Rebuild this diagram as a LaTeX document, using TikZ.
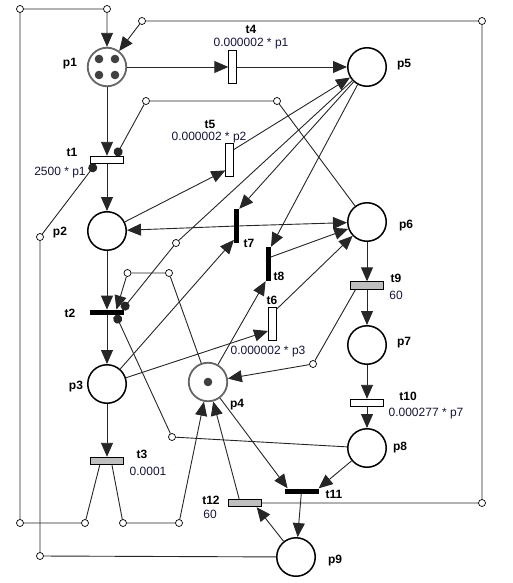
\documentclass[tikz,border=0pt]{standalone}
\usepackage{fontspec}
\setmainfont{Liberation Sans}
\usepackage{tikz}
\usetikzlibrary{shapes,arrows.meta}
\definecolor{ratecol}{RGB}{20,20,60}
\tikzstyle{place} = [circle, draw=black, line width=1.5pt, fill=white,
    minimum size=38.5pt, inner sep=0pt]
\tikzstyle{gplace} = [place, draw=black!60, line width=1.8pt]
\tikzstyle{tvert} = [rectangle, draw, line width=0.9pt, fill=white,
    minimum width=7.5pt, minimum height=33pt, inner sep=0pt]
\tikzstyle{thor} = [rectangle, draw, line width=0.9pt, fill=white,
    minimum width=33pt, minimum height=7.5pt, inner sep=0pt]
\tikzstyle{tgrey} = [thor, fill=black!25]
\tikzstyle{bvert} = [rectangle, fill=black, minimum width=5pt,
    minimum height=34pt, inner sep=0pt]
\tikzstyle{bhor} = [rectangle, fill=black, minimum width=34pt,
    minimum height=5pt, inner sep=0pt]
\tikzstyle{waypt} = [circle, draw, line width=0.7pt, fill=white,
    minimum size=7pt, inner sep=0pt]
\tikzstyle{lbl} = [font=\bfseries\fontsize{12}{14}\selectfont, anchor=base, inner sep=0pt]
\tikzstyle{rate} = [font=\fontsize{12}{14}\selectfont, text=ratecol, anchor=base, inner sep=0pt]
\tikzstyle{arcto} = [draw=black!85, line width=0.9pt, -{Triangle[length=14pt,width=12pt]}]
\tikzstyle{arcdot} = [draw=black!85, line width=0.9pt, -{Circle[length=9pt]}]

\begin{document}
\begin{tikzpicture}[x=1pt, y=-1pt]
  \useasboundingbox (0,0) rectangle (512,583);
  % places
  \node [gplace] (p1) at (107,67) {};
  \node [place] (p5) at (367,67) {};
  \node [place] (p2) at (107,231) {};
  \node [place] (p6) at (367,222) {};
  \node [place] (p3) at (107,384) {};
  \node [gplace] (p4) at (208,382) {};
  \node [place] (p7) at (367,345) {};
  \node [place] (p8) at (367,448) {};
  \node [place] (p9) at (296,557) {};
  \fill [black!75] ([shift={(-8,-8)}]p1.center) circle (4.3pt);
  \fill [black!75] ([shift={(8,-8)}]p1.center) circle (4.3pt);
  \fill [black!75] ([shift={(-8,8)}]p1.center) circle (4.3pt);
  \fill [black!75] ([shift={(8,8)}]p1.center) circle (4.3pt);
  \fill [black!75] (p4.center) circle (4.3pt);
  % transitions
  \node [tvert] (t4) at (232.5,67) {};
  \node [tvert] (t5) at (229.5,160) {};
  \node [thor] (t1) at (107,160) {};
  \node [bvert] (t7) at (236.6,226) {};
  \node [bvert] (t8) at (268.3,264) {};
  \node [tvert] (t6) at (272.2,324) {};
  \node [bhor] (t2) at (107,312.3) {};
  \node [tgrey] (t9) at (367,285.5) {};
  \node [thor] (t10) at (367,403) {};
  \node [tgrey] (t3) at (107,461) {};
  \node [bhor] (t11) at (301.5,491) {};
  \node [tgrey] (t12) at (244.5,503) {};
  % bend points
  \node [waypt] (wa) at (20,9) {};
  \node [waypt] (wb) at (107,9) {};
  \node [waypt] (wc) at (142,21) {};
  \node [waypt] (wd) at (482,21) {};
  \node [waypt] (we) at (482,503) {};
  \node [waypt] (wf) at (146,101) {};
  \node [waypt] (wg) at (277,101) {};
  \node [waypt] (wh) at (40,237) {};
  \node [waypt] (wi) at (40,556) {};
  \node [waypt] (wj) at (176,243) {};
  \node [waypt] (wk) at (127.5,273) {};
  \node [waypt] (wl) at (169,273) {};
  \node [waypt] (wm) at (313,364) {};
  \node [waypt] (wn) at (172,437) {};
  \node [waypt] (wo) at (20,523) {};
  \node [waypt] (wq) at (85,523) {};
  \node [waypt] (wr) at (123,523) {};
  \node [waypt] (ws) at (179,523) {};
  % labels
  \node [lbl] (p1l) at (70,67) {p1};
  \node [lbl] (p5l) at (404,68) {p5};
  \node [lbl] (p2l) at (60,235) {p2};
  \node [lbl] (p6l) at (406,228) {p6};
  \node [lbl] (p3l) at (76,389) {p3};
  \node [lbl] (p4l) at (237,407) {p4};
  \node [lbl] (p7l) at (404,345) {p7};
  \node [lbl] (p8l) at (400,450) {p8};
  \node [lbl] (p9l) at (335,563) {p9};
  \node [lbl] (t4l) at (251,34) {t4};
  \node [rate] (t4r) at (251,47) {0.000002 * p1};
  \node [lbl] (t5l) at (210,128.5) {t5};
  \node [rate] (t5r) at (209,140.5) {0.000002 * p2};
  \node [lbl] (t1l) at (72,156) {t1};
  \node [rate] (t1r) at (60,175) {2500 * p1};
  \node [lbl] (t7l) at (249,247) {t7};
  \node [lbl] (t8l) at (279,280) {t8};
  \node [lbl] (t6l) at (272,304) {t6};
  \node [rate] (t6r) at (268,354) {0.000002 * p3};
  \node [lbl] (t2l) at (70,317) {t2};
  \node [lbl] (t9l) at (396,282) {t9};
  \node [rate] (t9r) at (396,299) {60};
  \node [lbl] (t10l) at (408,400) {t10};
  \node [rate] (t10r) at (426,416) {0.000277 * p7};
  \node [lbl] (t3l) at (142,458) {t3};
  \node [rate] (t3r) at (148,475) {0.0001};
  \node [lbl] (t11l) at (334,498) {t11};
  \node [lbl] (t12l) at (211,504) {t12};
  \node [rate] (t12r) at (210,518) {60};
  % arcs
  \draw [arcto] (p1) -- (t4);
  \draw [arcto] (t4) -- (p5);
  \draw [arcto] (p1) -- (t1);
  \draw [arcto] (t1) -- (p2);
  \draw [arcto] (p2) -- (t2);
  \draw [arcto] (t2) -- (p3);
  \draw [arcto] (p3) -- (t3);
  \draw [arcto] (t3.210) -- (wq) -- (wo) -- (wa) -- (wb) -- (p1);
  \draw [arcto] (t3.-40) -- (wr) -- (ws) -- (p4);
  \draw [arcto] (t12) -- (we) -- (wd) -- (wc) -- (p1);
  \draw [arcto] (p2) -- (t5.248);
  \draw [arcto] (t5.68) -- (p5);
  \draw [arcto] (p5) -- (t7.north east);
  \draw [arcto] (p5) -- (t8.north east);
  \draw [arcto] (p3) -- (t7.259);
  \draw [arcto] (t7) -- (p2);
  \draw [arcto] (t7) -- (p6);
  \draw [arcto] (p4) -- (t8.south west);
  \draw [arcto] (t8.69) -- (p6);
  \draw [arcto] (p3) -- (t6.239);
  \draw [arcto] (t6.74) -- (p6);
  \draw [arcto] (p6) -- (t9);
  \draw [arcto] (t9) -- (p7);
  \draw [arcto] (p7) -- (t10);
  \draw [arcto] (t10) -- (p8);
  \draw [arcto] (t9.200) -- (wm) -- (p4);
  \draw [arcto] (p4) -- (wl) -- (wk) -- (t2.16);
  \draw [arcto] (p8) -- (t11.north east);
  \draw [arcto] (p4) -- (t11.169);
  \draw [arcto] (t11) -- (p9);
  \draw [arcto] (p9) -- (t12.-19);
  \draw [arcto] (t12.142) -- (p4);
  \draw [arcdot] (p6) -- (wg) -- (wf) -- (t1.25);
  \draw [arcdot] (p9) -- (wi) -- (wh) -- (t1.200);
  \draw [arcdot] (p5) -- (wj) -- (t2.10);
  \draw [arcdot] (p8) -- (wn) -- (t2.-17);
\end{tikzpicture}
\end{document}
